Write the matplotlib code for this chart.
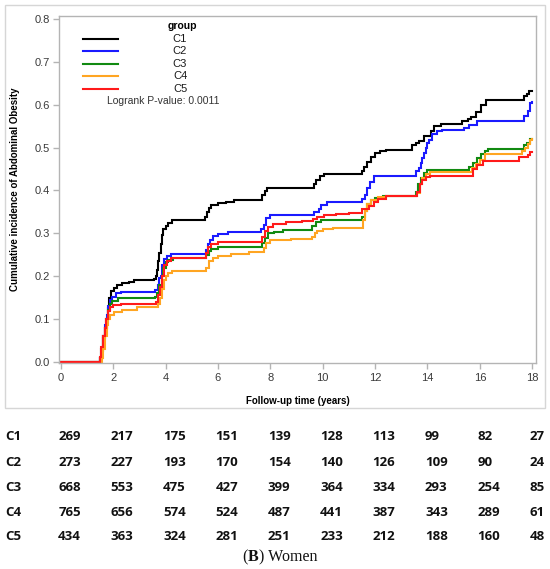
import matplotlib
matplotlib.use("Agg")
import matplotlib.pyplot as plt
import matplotlib.transforms as mtransforms
from matplotlib.patches import Rectangle

# ---------------- data ----------------
groups = ["C1", "C2", "C3", "C4", "C5"]
colors = ["#000000", "#1a1aff", "#118a11", "#ffa522", "#ff1a1a"]

c1 = [(0, 0), (1.45, 0), (1.5, 0.01), (1.55, 0.03), (1.62, 0.06), (1.68, 0.08), (1.74, 0.1),
      (1.8, 0.125), (1.86, 0.15), (1.93, 0.165), (2.02, 0.172), (2.15, 0.179), (2.35, 0.183),
      (2.6, 0.187), (2.8, 0.19), (3.55, 0.193), (3.62, 0.2), (3.68, 0.215), (3.72, 0.235),
      (3.77, 0.255), (3.82, 0.275), (3.87, 0.295), (3.92, 0.31), (4.0, 0.317), (4.1, 0.323),
      (4.25, 0.33), (5.5, 0.338), (5.57, 0.35), (5.65, 0.36), (5.75, 0.366), (6.0, 0.37),
      (6.3, 0.374), (6.6, 0.378), (7.7, 0.39), (7.78, 0.398), (7.88, 0.405), (9.65, 0.415),
      (9.75, 0.425), (9.9, 0.433), (10.04, 0.439), (11.51, 0.445), (11.57, 0.455), (11.7, 0.466),
      (11.83, 0.478), (12.0, 0.488), (12.2, 0.492), (12.4, 0.495), (13.42, 0.505), (13.55, 0.51),
      (13.68, 0.516), (13.87, 0.527), (14.12, 0.538), (14.25, 0.55), (14.5, 0.555),
      (15.3, 0.561), (15.55, 0.566), (15.65, 0.572), (15.84, 0.584), (16.03, 0.6),
      (16.23, 0.612), (17.69, 0.62), (17.8, 0.626), (17.88, 0.631), (18.0, 0.631)]

c2 = [(0, 0), (1.45, 0), (1.5, 0.01), (1.56, 0.03), (1.63, 0.06), (1.7, 0.085), (1.76, 0.11),
      (1.82, 0.13), (1.88, 0.145), (1.95, 0.152), (2.1, 0.16), (2.3, 0.164), (3.6, 0.168),
      (3.7, 0.18), (3.76, 0.195), (3.82, 0.2), (3.88, 0.225), (3.95, 0.24), (4.05, 0.247),
      (4.2, 0.251), (5.55, 0.26), (5.62, 0.275), (5.7, 0.285), (5.8, 0.293), (6.0, 0.298),
      (6.4, 0.302), (7.65, 0.31), (7.75, 0.32), (7.85, 0.335), (8.0, 0.342), (9.65, 0.35),
      (9.85, 0.357), (9.95, 0.365), (10.17, 0.372), (11.5, 0.38), (11.6, 0.39), (11.7, 0.405),
      (11.8, 0.42), (11.95, 0.433), (13.55, 0.445), (13.68, 0.453), (13.75, 0.465),
      (13.8, 0.476), (13.87, 0.488), (13.93, 0.499), (14.0, 0.51), (14.06, 0.518),
      (14.18, 0.531), (14.38, 0.539), (14.57, 0.541), (15.4, 0.546), (15.6, 0.553),
      (15.9, 0.561), (17.69, 0.574), (17.85, 0.585), (17.93, 0.603), (18.0, 0.606)]

c3 = [(0, 0), (1.45, 0), (1.5, 0.008), (1.56, 0.025), (1.63, 0.055), (1.7, 0.08), (1.76, 0.1),
      (1.82, 0.12), (1.88, 0.135), (1.97, 0.143), (2.2, 0.149), (3.6, 0.152), (3.68, 0.16),
      (3.76, 0.18), (3.85, 0.2), (3.92, 0.22), (4.0, 0.233), (4.1, 0.238), (4.3, 0.242),
      (5.55, 0.25), (5.65, 0.258), (5.75, 0.264), (6.0, 0.268), (7.7, 0.278), (7.8, 0.29),
      (7.9, 0.3), (8.15, 0.303), (8.5, 0.307), (9.6, 0.318), (9.75, 0.326), (9.95, 0.33),
      (11.5, 0.337), (11.62, 0.353), (11.7, 0.369), (11.83, 0.377), (12.0, 0.383), (12.3, 0.388),
      (13.55, 0.396), (13.65, 0.415), (13.75, 0.43), (13.87, 0.44), (14.0, 0.447),
      (15.6, 0.455), (15.75, 0.465), (15.9, 0.475), (16.05, 0.485), (16.2, 0.492),
      (16.3, 0.496), (17.7, 0.505), (17.8, 0.51), (17.9, 0.52), (18.0, 0.52)]

c4 = [(0, 0), (1.5, 0), (1.56, 0.01), (1.62, 0.03), (1.68, 0.06), (1.75, 0.085), (1.82, 0.1),
      (1.9, 0.11), (2.05, 0.116), (2.35, 0.122), (2.9, 0.127), (3.72, 0.135), (3.8, 0.15),
      (3.87, 0.17), (3.93, 0.19), (4.0, 0.2), (4.1, 0.207), (4.25, 0.211), (5.55, 0.22),
      (5.65, 0.235), (5.8, 0.242), (6.0, 0.248), (6.5, 0.252), (7.2, 0.256), (7.75, 0.265),
      (7.85, 0.278), (8.0, 0.284), (8.8, 0.287), (9.6, 0.291), (9.7, 0.3), (9.8, 0.305),
      (10.0, 0.309), (10.4, 0.312), (11.55, 0.33), (11.62, 0.353), (11.7, 0.368),
      (11.83, 0.378), (12.1, 0.384), (12.4, 0.386), (13.6, 0.395), (13.7, 0.415), (13.8, 0.43),
      (13.95, 0.438), (14.1, 0.442), (15.7, 0.452), (15.85, 0.462), (16.0, 0.472),
      (16.2, 0.485), (17.6, 0.492), (17.72, 0.5), (17.82, 0.509), (17.9, 0.517), (18.0, 0.52)]

c5 = [(0, 0), (1.45, 0), (1.5, 0.012), (1.55, 0.035), (1.62, 0.06), (1.68, 0.08), (1.74, 0.1),
      (1.8, 0.118), (1.88, 0.128), (2.0, 0.132), (2.3, 0.136), (3.65, 0.14), (3.72, 0.155),
      (3.8, 0.175), (3.88, 0.2), (3.95, 0.225), (4.05, 0.236), (4.2, 0.243), (5.55, 0.255),
      (5.62, 0.268), (5.75, 0.276), (6.0, 0.28), (7.7, 0.292), (7.8, 0.305), (7.9, 0.315),
      (8.1, 0.322), (8.6, 0.326), (9.2, 0.329), (9.62, 0.334), (9.8, 0.338), (10.05, 0.342),
      (10.5, 0.345), (11.0, 0.347), (11.5, 0.357), (11.75, 0.364), (11.95, 0.372), (12.1, 0.38),
      (12.4, 0.388), (13.6, 0.396), (13.7, 0.415), (13.8, 0.425), (13.95, 0.432),
      (14.1, 0.434), (15.75, 0.45), (15.9, 0.46), (16.1, 0.469), (17.5, 0.477),
      (17.85, 0.482), (17.92, 0.49), (18.0, 0.49)]

curves = [c1, c2, c3, c4, c5]

risk_times = [0, 2, 4, 6, 8, 10, 12, 14, 16, 18]
risk_c1 = [269, 217, 175, 151, 139, 128, 113, 99, 82, 27]
risk_c2 = [273, 227, 193, 170, 154, 140, 126, 109, 90, 24]
risk_c3 = [668, 553, 475, 427, 399, 364, 334, 293, 254, 85]
risk_c4 = [765, 656, 574, 524, 487, 441, 387, 343, 289, 61]
risk_c5 = [434, 363, 324, 281, 251, 233, 212, 188, 160, 48]
risk_rows = [risk_c1, risk_c2, risk_c3, risk_c4, risk_c5]

x_ticks = [0, 2, 4, 6, 8, 10, 12, 14, 16, 18]
y_ticks = [0.0, 0.1, 0.2, 0.3, 0.4, 0.5, 0.6, 0.7, 0.8]

# ---------------- figure ----------------
W, H = 550, 569
fig = plt.figure(figsize=(W / 100, H / 100), dpi=100)
fig.patch.set_facecolor("white")


def fx(px):
    return px / W


def fy(py):
    return 1 - py / H


# panel border
fig.add_artist(Rectangle((fx(5), fy(408)), fx(545) - fx(5), fy(5) - fy(408),
                         transform=fig.transFigure, fill=False, edgecolor="#d6d6d6", lw=1.0))

ax_l, ax_r, ax_t, ax_b = 59.3, 535.7, 15.7, 363.3
ax = fig.add_axes([fx(ax_l), fy(ax_b), fx(ax_r) - fx(ax_l), fy(ax_t) - fy(ax_b)])

for cv, col in zip(curves, colors):
    ts = [p[0] for p in cv]
    vs = [p[1] for p in cv]
    ax.step(ts, vs, where="post", color=col, lw=1.5, solid_joinstyle="miter")

ax.set_xlim(-0.054, 18.13)
ax.set_ylim(-0.0035, 0.8077)
ax.set_xticks(x_ticks)
ax.set_xticklabels([str(t) for t in x_ticks])
ax.set_yticks(y_ticks)
ax.set_yticklabels([f"{v:.1f}" for v in y_ticks])

spine_col = "#b4b4b4"
for s in ax.spines.values():
    s.set_color(spine_col)
    s.set_linewidth(1.0)
ax.tick_params(axis="both", colors=spine_col, length=4, width=1.0, direction="out",
               labelcolor="#3a3a3a", labelsize=8, pad=3)
for lab in ax.get_xticklabels() + ax.get_yticklabels():
    lab.set_family("Liberation Sans")

ax.set_xlabel("Follow-up time (years)", fontsize=7, fontweight="bold",
              family="Liberation Sans", labelpad=9)
ax.set_ylabel("Cumulative incidence of Abdominal Obesity", fontsize=7, fontweight="bold",
              family="Liberation Sans", labelpad=10)


# legend (drawn inside the axes)
def axx(px):
    return (px - ax_l) / (ax_r - ax_l)


def axy(py):
    return (ax_b - py) / (ax_b - ax_t)


ax.text(axx(182), axy(26), "group", transform=ax.transAxes, ha="center", va="center",
        fontsize=7.5, fontweight="bold", family="Liberation Sans")
for i, (g, col) in enumerate(zip(groups, colors)):
    yy = axy(38.5 + i * 12.55)
    ax.plot([axx(83), axx(118)], [yy, yy], transform=ax.transAxes, color=col, lw=1.5)
    ax.text(axx(180), yy, g, transform=ax.transAxes, ha="center", va="center",
            fontsize=8, family="Liberation Sans", color="#1a1a1a")
ax.text(axx(107), axy(101), "Logrank P-value: 0.0011", transform=ax.transAxes,
        ha="left", va="center", fontsize=7.5, family="Liberation Sans", color="#333333")

# risk table
row_y = [437, 462, 487.5, 512.5, 537]
blend = mtransforms.blended_transform_factory(ax.transData, fig.transFigure)
offset = mtransforms.ScaledTranslation(-2.5 / 100, 0, fig.dpi_scale_trans)
for g, vals, ry in zip(groups, risk_rows, row_y):
    fig.text(fx(5), fy(ry), g, ha="left", va="center", fontsize=9.5, fontweight="bold",
             family="Open Sans", color="#111111")
    for t, v in zip(risk_times, vals):
        fig.text(t, fy(ry), str(v), transform=blend + offset, ha="left", va="center",
                 fontsize=9.5, fontweight="bold", family="Open Sans", color="#111111")

# caption "(B) Women"
fig.canvas.draw()
renderer = fig.canvas.get_renderer()
parts = [("(", "normal"), ("B", "bold"), (") Women", "normal")]
texts = []
for s, w in parts:
    texts.append(fig.text(0, fy(557), s, ha="left", va="center", fontsize=11.5,
                          fontweight=w, family="Liberation Serif", color="#111111"))
widths = [t.get_window_extent(renderer).width for t in texts]
total = sum(widths)
x0 = 280 - total / 2
for t, wdt in zip(texts, widths):
    t.set_x(x0 / W)
    x0 += wdt

fig.savefig("out.png", dpi=100, facecolor="white")
